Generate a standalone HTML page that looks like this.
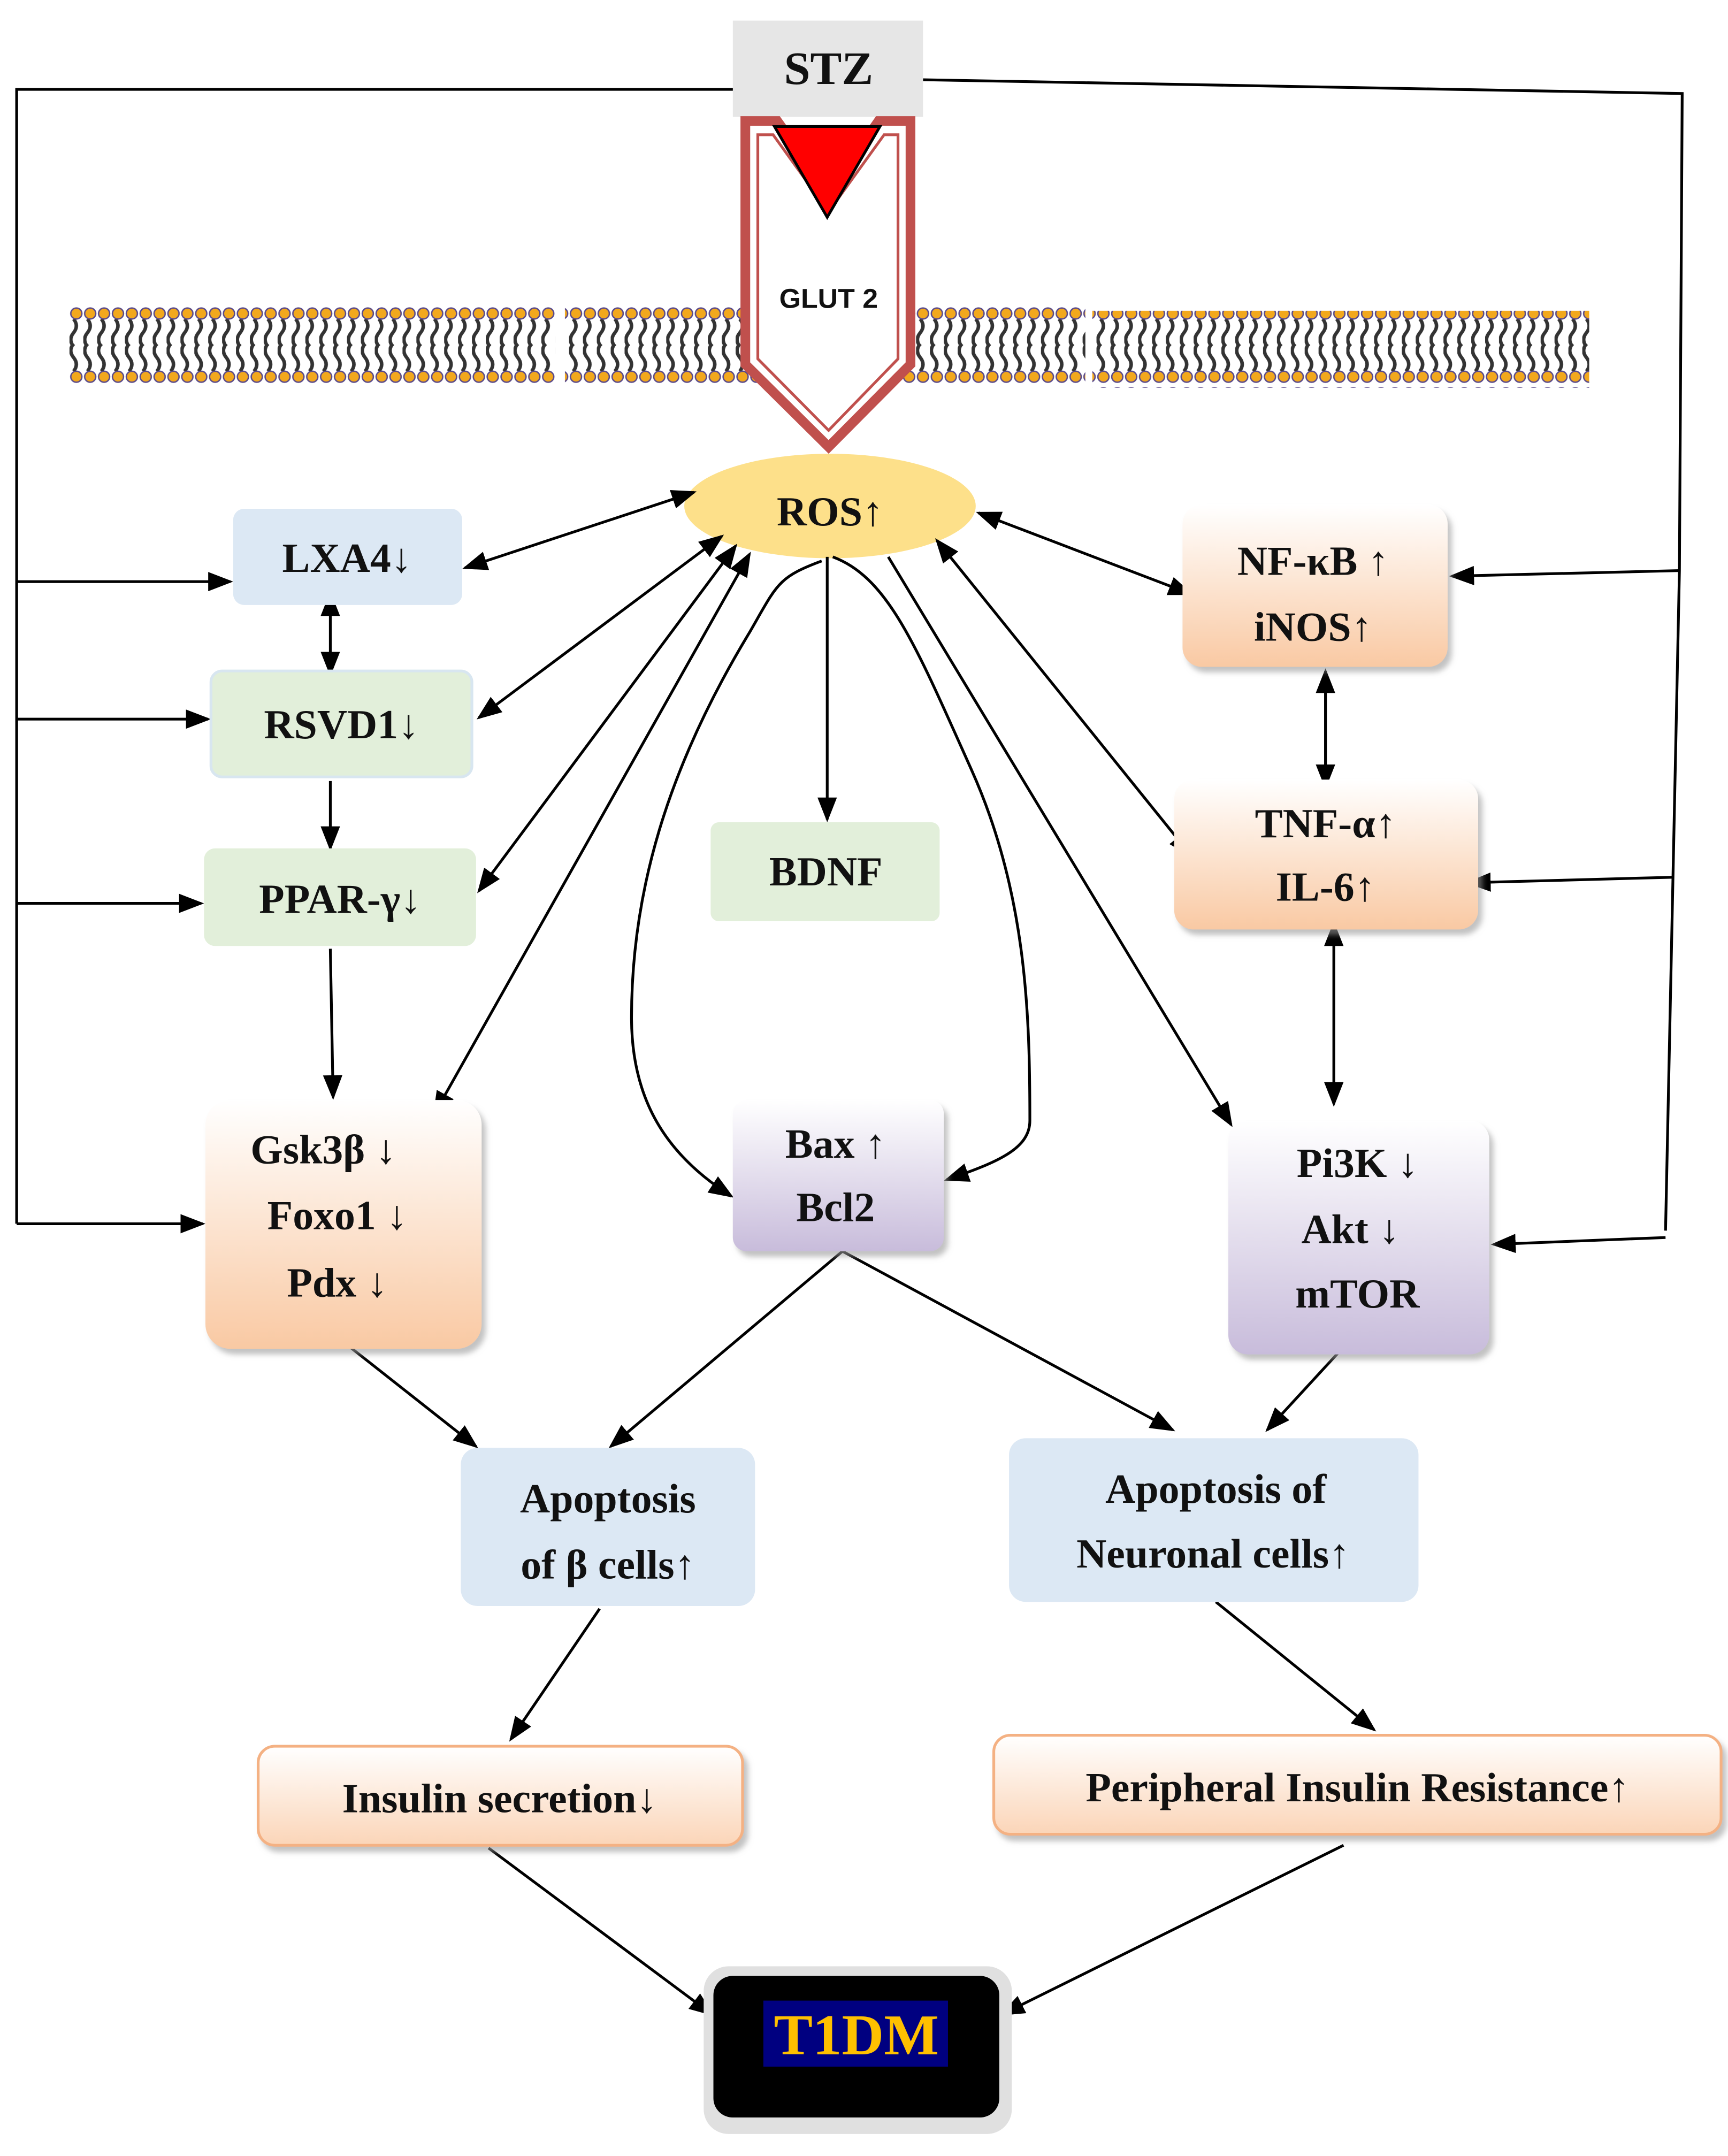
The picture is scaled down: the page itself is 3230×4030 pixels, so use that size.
<!DOCTYPE html>
<html><head><meta charset="utf-8"><style>
html,body{margin:0;padding:0;background:#fff;}
svg{display:block;}
text{font-family:"Liberation Serif",serif;font-weight:bold;fill:#111;}
</style></head><body>
<svg width="3230" height="4030" viewBox="0 0 1245 1568" preserveAspectRatio="none" xmlns="http://www.w3.org/2000/svg">
<defs>
<marker id="b" markerWidth="18" markerHeight="14" refX="16" refY="7" orient="auto-start-reverse" markerUnits="userSpaceOnUse"><path d="M0,0 L18,7 L0,14 z" fill="#000"/></marker>
<linearGradient id="pe" x1="0" y1="0" x2="0" y2="1"><stop offset="0" stop-color="#fff"/><stop offset="1" stop-color="#f9c9a3"/></linearGradient>
<linearGradient id="pu" x1="0" y1="0" x2="0" y2="1"><stop offset="0" stop-color="#fff"/><stop offset="1" stop-color="#c8bcdb"/></linearGradient>
<linearGradient id="pl" x1="0" y1="0" x2="0" y2="1"><stop offset="0" stop-color="#fff"/><stop offset="1" stop-color="#fbd5b8"/></linearGradient>
<pattern id="mem" x="50" y="222" width="10" height="58" patternUnits="userSpaceOnUse">
<rect width="10" height="58" fill="#fff"/>
<path d="M3,10 q4,5 0,10 q-4,5 0,10 M3,48 q4,-5 0,-10 q-4,-5 0,-10" stroke="#333" stroke-width="2.5" fill="none"/>
<circle cx="5" cy="6" r="4" fill="#f2a81d" stroke="#5a4a8a" stroke-width="1"/>
<circle cx="5" cy="52" r="4" fill="#f2a81d" stroke="#5a4a8a" stroke-width="1"/>
</pattern>
<filter id="sh" x="-10%" y="-10%" width="130%" height="130%"><feDropShadow dx="3" dy="4" stdDeviation="2" flood-color="#999" flood-opacity="0.6"/></filter>
</defs>

<polyline points="530,65 12,65 12,890" fill="none" stroke="#000" stroke-width="2"/>
<line x1="12" y1="423" x2="166" y2="423" stroke="#000" stroke-width="2" marker-end="url(#b)"/>
<line x1="12" y1="523" x2="150" y2="523" stroke="#000" stroke-width="2" marker-end="url(#b)"/>
<line x1="12" y1="657" x2="145" y2="657" stroke="#000" stroke-width="2" marker-end="url(#b)"/>
<line x1="12" y1="890" x2="146" y2="890" stroke="#000" stroke-width="2" marker-end="url(#b)"/>
<polyline points="665,58 1212,68 1210,415 1200,895" fill="none" stroke="#000" stroke-width="2"/>
<line x1="1210" y1="415" x2="1046" y2="419" stroke="#000" stroke-width="2" marker-end="url(#b)"/>
<line x1="1205" y1="638" x2="1058" y2="642" stroke="#000" stroke-width="2" marker-end="url(#b)"/>
<line x1="1200" y1="900" x2="1076" y2="905" stroke="#000" stroke-width="2" marker-end="url(#b)"/>

<rect x="50" y="222" width="350" height="58" fill="url(#mem)"/>
<rect x="407" y="222" width="375" height="58" fill="url(#mem)"/>
<rect x="787" y="226" width="358" height="56" fill="url(#mem)"/>

<rect x="528" y="15" width="137" height="70" fill="#e6e6e6"/>
<text x="597" y="61" font-size="34" text-anchor="middle">STZ</text>

<polygon points="537,88 560,88 597,140 633,88 656,88 656,265 597,325 537,265" fill="#fff" stroke="#c0504d" stroke-width="7"/>
<polygon points="546,98 557,98 597,154 637,98 647,98 647,261 597,313 546,261" fill="#fff" stroke="#c0504d" stroke-width="2"/>
<polygon points="558,92 634,92 596,158" fill="#ff0000" stroke="#000" stroke-width="2"/>
<text x="597" y="224" font-size="20" text-anchor="middle" style="font-family:'Liberation Sans',sans-serif">GLUT  2</text>

<ellipse cx="598" cy="368" rx="105" ry="38" fill="#fde08a"/>
<text x="598" y="382" font-size="30" text-anchor="middle">ROS↑</text>

<g stroke="#000" stroke-width="2" fill="none">
<line x1="500" y1="358" x2="335" y2="413" marker-start="url(#b)" marker-end="url(#b)"/>
<line x1="520" y1="390" x2="345" y2="522" marker-start="url(#b)" marker-end="url(#b)"/>
<line x1="530" y1="397" x2="345" y2="648" marker-start="url(#b)" marker-end="url(#b)"/>
<line x1="540" y1="403" x2="313" y2="810" marker-start="url(#b)" marker-end="url(#b)"/>
<line x1="640" y1="405" x2="887" y2="818" marker-end="url(#b)"/>
<line x1="675" y1="393" x2="858" y2="622" marker-start="url(#b)" marker-end="url(#b)"/>
<line x1="705" y1="373" x2="858" y2="432" marker-start="url(#b)" marker-end="url(#b)"/>
<line x1="596" y1="405" x2="596" y2="596" marker-end="url(#b)"/>
<path d="M592,408 C560,420 560,425 540,460 C480,560 455,650 455,740 C455,800 480,840 527,870" marker-end="url(#b)"/>
<path d="M600,405 C640,420 660,470 700,560 C740,650 742,740 742,815 C742,835 720,845 682,858" marker-end="url(#b)"/>
<line x1="238" y1="432" x2="238" y2="490" marker-start="url(#b)" marker-end="url(#b)"/>
<line x1="238" y1="568" x2="238" y2="617" marker-end="url(#b)"/>
<line x1="238" y1="690" x2="240" y2="798" marker-end="url(#b)"/>
<line x1="955" y1="488" x2="955" y2="572" marker-start="url(#b)" marker-end="url(#b)"/>
<line x1="961" y1="672" x2="961" y2="803" marker-start="url(#b)" marker-end="url(#b)"/>
<line x1="240" y1="970" x2="343" y2="1052" marker-end="url(#b)"/>
<line x1="607" y1="910" x2="440" y2="1052" marker-end="url(#b)"/>
<line x1="607" y1="910" x2="845" y2="1040" marker-end="url(#b)"/>
<line x1="975" y1="972" x2="913" y2="1040" marker-end="url(#b)"/>
<line x1="432" y1="1170" x2="368" y2="1265" marker-end="url(#b)"/>
<line x1="876" y1="1165" x2="990" y2="1258" marker-end="url(#b)"/>
<line x1="352" y1="1344" x2="513" y2="1465" marker-end="url(#b)"/>
<line x1="968" y1="1342" x2="722" y2="1465" marker-end="url(#b)"/>
</g>

<rect x="168" y="370" width="165" height="70" rx="8" fill="#dce8f4"/>
<text x="250" y="416" font-size="30" text-anchor="middle">LXA4↓</text>
<rect x="152" y="488" width="188" height="77" rx="8" fill="#e2efda" stroke="#d8e6f0" stroke-width="2"/>
<text x="246" y="537" font-size="30" text-anchor="middle">RSVD1↓</text>
<rect x="147" y="617" width="196" height="71" rx="8" fill="#e2efda"/>
<text x="245" y="664" font-size="30" text-anchor="middle">PPAR-γ↓</text>
<rect x="512" y="598" width="165" height="72" rx="6" fill="#e2efda"/>
<text x="595" y="644" font-size="30" text-anchor="middle">BDNF</text>

<rect x="148" y="800" width="199" height="181" rx="18" fill="url(#pe)" filter="url(#sh)"/>
<text x="233" y="846" font-size="30" text-anchor="middle">Gsk3β ↓</text>
<text x="243" y="894" font-size="30" text-anchor="middle">Foxo1  ↓</text>
<text x="243" y="943" font-size="30" text-anchor="middle">Pdx  ↓</text>

<rect x="528" y="800" width="152" height="110" rx="10" fill="url(#pu)" filter="url(#sh)"/>
<text x="602" y="842" font-size="30" text-anchor="middle">Bax ↑</text>
<text x="602" y="888" font-size="30" text-anchor="middle">Bcl2</text>

<rect x="852" y="367" width="191" height="118" rx="14" fill="url(#pe)" filter="url(#sh)"/>
<text x="946" y="418" font-size="30" text-anchor="middle">NF-κB ↑</text>
<text x="946" y="466" font-size="30" text-anchor="middle">iNOS↑</text>

<rect x="846" y="567" width="219" height="109" rx="14" fill="url(#pe)" filter="url(#sh)"/>
<text x="955" y="609" font-size="30" text-anchor="middle">TNF-α↑</text>
<text x="955" y="655" font-size="30" text-anchor="middle">IL-6↑</text>

<rect x="885" y="815" width="188" height="170" rx="14" fill="url(#pu)" filter="url(#sh)"/>
<text x="978" y="856" font-size="30" text-anchor="middle">Pi3K ↓</text>
<text x="973" y="904" font-size="30" text-anchor="middle">Akt  ↓</text>
<text x="978" y="951" font-size="30" text-anchor="middle">mTOR</text>

<rect x="332" y="1053" width="212" height="115" rx="12" fill="#dce8f4"/>
<text x="438" y="1100" font-size="30" text-anchor="middle">Apoptosis</text>
<text x="438" y="1148" font-size="30" text-anchor="middle">of β cells↑</text>

<rect x="727" y="1046" width="295" height="119" rx="12" fill="#dce8f4"/>
<text x="876" y="1093" font-size="30" text-anchor="middle">Apoptosis of</text>
<text x="874" y="1140" font-size="30" text-anchor="middle">Neuronal cells↑</text>

<rect x="186" y="1270" width="349" height="72" rx="12" fill="url(#pl)" stroke="#f4b183" stroke-width="2" filter="url(#sh)"/>
<text x="360" y="1318" font-size="30" text-anchor="middle">Insulin secretion↓</text>

<rect x="716" y="1262" width="524" height="72" rx="12" fill="url(#pl)" stroke="#f4b183" stroke-width="2" filter="url(#sh)"/>
<text x="978" y="1310" font-size="30" text-anchor="middle">Peripheral Insulin Resistance↑</text>

<rect x="507" y="1430" width="222" height="122" rx="18" fill="#e0e0e0"/>
<rect x="514" y="1437" width="206" height="103" rx="14" fill="#000"/>
<rect x="550" y="1455" width="133" height="48" fill="#000080"/>
<text x="617" y="1494" font-size="42" text-anchor="middle" style="fill:#ffc000">T1DM</text>
</svg>
</body></html>
